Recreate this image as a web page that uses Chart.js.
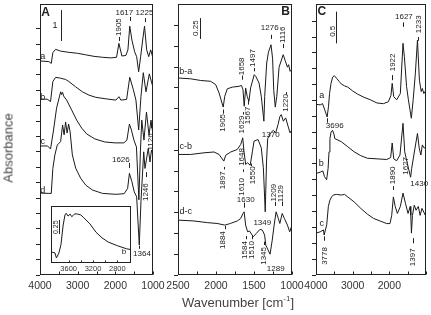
<!DOCTYPE html>
<html>
<head>
<meta charset="utf-8">
<script src="https://cdn.jsdelivr.net/npm/chart.js@4.4.1/dist/chart.umd.min.js"></script>
<style>
  body { margin: 0; background: #fff; }
  #wrap { position: relative; width: 431px; height: 315px; background: #fff; overflow: hidden; }
  #wrap canvas { position: absolute; left: 0; top: 0; }
  .ttl { position: absolute; font-family: "Liberation Sans", Arial, sans-serif; font-size: 13px; color: #444; white-space: nowrap; }
  #ylab { left: 8px; top: 148px; transform: translate(-50%, -50%) rotate(-90deg); }
  #xlab { left: 238px; top: 302px; transform: translate(-50%, -50%); }
  #xlab sup { font-size: 8px; line-height: 0; }
</style>
</head>
<body>
<div id="wrap">
  <canvas id="cA" width="431" height="315"></canvas>
  <canvas id="cB" width="431" height="315"></canvas>
  <canvas id="cC" width="431" height="315"></canvas>
  <canvas id="cIn" width="431" height="315"></canvas>
  <div class="ttl" id="ylab">Absorbance</div>
  <div class="ttl" id="xlab">Wavenumber [cm<sup>-1</sup>]</div>
</div>
<script>
const FONT = '"Liberation Sans", Arial, sans-serif';

// ---------- panel A (spectra a-d, stacked) ----------
const wnA_a = [4000, 3765, 3701, 3659, 3587, 3453, 3232, 3008, 2787, 2565, 2341, 2120, 1968, 1905, 1826, 1720, 1666, 1617, 1560, 1488, 1434, 1381, 1328, 1274, 1225, 1168, 1114, 1061, 1000];
const absA_a = [6.95, 6.93, 6.87, 7.22, 7.33, 7.27, 7.23, 7.20, 7.15, 7.10, 7.07, 7.05, 7.07, 7.52, 7.11, 7.13, 7.31, 8.08, 7.63, 7.25, 7.09, 6.60, 7.09, 7.63, 8.08, 7.31, 7.09, 7.31, 7.04];
const wnA_b = [4000, 3808, 3720, 3659, 3587, 3453, 3320, 3232, 3053, 2875, 2699, 2520, 2253, 1986, 1905, 1853, 1701, 1617, 1525, 1453, 1380, 1320, 1258, 1186, 1098, 1000];
const absA_b = [5.71, 5.71, 5.63, 6.28, 6.42, 6.39, 6.35, 6.28, 6.11, 5.95, 5.84, 5.77, 5.72, 5.68, 5.79, 5.68, 5.70, 6.42, 6.03, 5.68, 4.71, 5.79, 6.57, 5.95, 6.53, 6.09];
const wnA_c = [4000, 3800, 3720, 3640, 3560, 3480, 3450, 3427, 3400, 3373, 3293, 3160, 3027, 2893, 2760, 2547, 2280, 2013, 1773, 1693, 1626, 1573, 1506, 1440, 1375, 1333, 1298, 1240, 1173, 1106, 1053, 1000];
const absA_c = [4.19, 4.19, 4.09, 4.71, 5.42, 5.81, 5.95, 5.86, 5.93, 5.81, 5.68, 5.36, 5.03, 4.77, 4.58, 4.42, 4.32, 4.29, 4.29, 4.38, 4.90, 4.71, 4.38, 4.16, 2.44, 4.06, 5.03, 4.38, 5.29, 4.55, 5.03, 4.55];
const wnA_d = [4000, 3765, 3701, 3659, 3605, 3541, 3453, 3400, 3360, 3320, 3280, 3240, 3200, 3141, 3053, 2920, 2787, 2608, 2341, 1986, 1765, 1674, 1626, 1560, 1498, 1434, 1364, 1320, 1246, 1213, 1126, 1080, 1040, 1000];
const absA_d = [2.66, 2.65, 2.65, 3.46, 3.90, 4.22, 4.33, 4.87, 4.55, 4.97, 4.61, 4.90, 4.64, 3.90, 3.47, 3.14, 2.92, 2.76, 2.65, 2.62, 2.64, 2.81, 3.30, 3.03, 2.70, 2.54, 0.97, 2.38, 4.00, 3.46, 4.11, 3.67, 4.06, 3.90];
// inset of A (spectrum b, OH region)
const wnIn_b = [3890, 3825, 3801, 3760, 3726, 3690, 3660, 3640, 3610, 3576, 3550, 3525, 3501, 3450, 3400, 3351, 3250, 3150, 3051, 2950, 2800, 2650, 2575];
const absIn_b = [0.20, 0.18, 0.09, 0.18, 0.33, 0.68, 0.86, 0.89, 0.84, 0.875, 0.83, 0.85, 0.88, 0.875, 0.86, 0.81, 0.70, 0.55, 0.45, 0.375, 0.31, 0.255, 0.24];

// ---------- panel B (difference spectra) ----------
const wnB_ba = [2500, 2333, 2201, 2070, 2004, 1960, 1905, 1885, 1851, 1785, 1697, 1665, 1645, 1629, 1610, 1590, 1567, 1545, 1497, 1477, 1434, 1404, 1370, 1359, 1333, 1310, 1276, 1255, 1240, 1220, 1200, 1170, 1116, 1090, 1060, 1045, 1025, 1000];
const absB_ba = [2.37, 2.36, 2.34, 2.33, 2.29, 2.19, 2.02, 2.15, 2.24, 2.26, 2.27, 2.28, 2.23, 2.03, 2.25, 2.15, 2.09, 2.25, 2.41, 2.39, 2.31, 2.15, 1.85, 2.15, 2.55, 2.68, 2.77, 2.60, 2.22, 2.02, 2.15, 2.50, 2.65, 2.58, 2.50, 2.53, 2.45, 2.48];
const wnB_cb = [2500, 2333, 2158, 2026, 1960, 1897, 1872, 1806, 1720, 1675, 1648, 1632, 1610, 1585, 1550, 1520, 1500, 1447, 1404, 1377, 1352, 1335, 1320, 1280, 1246, 1214, 1184, 1158, 1141, 1114, 1083, 1052, 1026, 1000];
const absB_cb = [1.45, 1.45, 1.47, 1.48, 1.45, 1.37, 1.44, 1.48, 1.51, 1.57, 1.65, 1.49, 1.33, 1.35, 1.32, 1.49, 1.61, 1.63, 1.53, 1.29, 0.76, 1.37, 1.64, 1.71, 1.74, 1.71, 1.81, 1.91, 1.93, 1.85, 1.89, 1.79, 1.71, 1.75];
const wnB_dc = [2500, 2290, 2115, 1985, 1884, 1810, 1720, 1675, 1645, 1630, 1610, 1584, 1560, 1510, 1470, 1420, 1390, 1360, 1345, 1289, 1260, 1235, 1209, 1180, 1160, 1129, 1100, 1060, 1030, 1000];
const absB_dc = [0.66, 0.65, 0.63, 0.62, 0.60, 0.62, 0.65, 0.68, 0.74, 0.76, 0.60, 0.52, 0.53, 0.46, 0.50, 0.55, 0.54, 0.48, 0.36, 0.25, 0.42, 0.60, 0.76, 0.68, 0.62, 0.74, 0.68, 0.60, 0.52, 0.60];

// ---------- panel C (spectra a-c) ----------
const wnC_a = [4000, 3886, 3822, 3760, 3696, 3660, 3630, 3590, 3545, 3500, 3440, 3370, 3310, 3222, 3132, 2999, 2866, 2691, 2513, 2335, 2160, 2027, 1956, 1922, 1880, 1800, 1700, 1627, 1590, 1530, 1480, 1400, 1350, 1290, 1233, 1180, 1130, 1100, 1060, 1000];
const absC_a = [2.69, 2.68, 2.70, 2.60, 2.49, 2.65, 2.86, 3.02, 3.12, 3.14, 3.10, 3.05, 3.01, 2.98, 2.96, 2.90, 2.85, 2.80, 2.76, 2.71, 2.70, 2.73, 2.83, 3.02, 2.81, 2.76, 2.86, 3.65, 3.44, 2.97, 2.76, 2.47, 2.76, 3.18, 3.70, 3.07, 2.89, 2.94, 2.86, 2.91];
const wnC_b = [4000, 3886, 3814, 3769, 3710, 3670, 3645, 3620, 3590, 3550, 3510, 3488, 3310, 3132, 2957, 2779, 2601, 2335, 2070, 1964, 1922, 1880, 1800, 1710, 1627, 1580, 1510, 1420, 1390, 1300, 1233, 1185, 1140, 1100, 1050, 1000];
const absC_b = [1.60, 1.62, 1.64, 1.55, 1.50, 1.68, 1.94, 2.15, 2.25, 2.28, 2.22, 2.15, 2.10, 2.02, 1.94, 1.88, 1.84, 1.83, 1.82, 1.85, 2.08, 1.83, 1.80, 1.89, 2.39, 1.94, 1.76, 1.54, 1.68, 2.00, 2.23, 2.00, 1.89, 2.05, 2.00, 2.02];
const wnC_c = [4000, 3886, 3796, 3778, 3708, 3663, 3620, 3575, 3530, 3442, 3310, 3222, 3132, 2957, 2779, 2601, 2426, 2248, 2070, 1982, 1935, 1890, 1840, 1780, 1700, 1627, 1560, 1490, 1430, 1415, 1397, 1370, 1320, 1270, 1210, 1160, 1110, 1000];
const absC_c = [0.66, 0.68, 0.71, 0.63, 0.79, 1.08, 1.18, 1.23, 1.26, 1.27, 1.26, 1.27, 1.23, 1.15, 1.05, 0.96, 0.89, 0.85, 0.81, 0.81, 0.94, 1.23, 1.08, 0.97, 1.08, 1.29, 1.13, 0.97, 1.08, 0.94, 0.66, 0.94, 1.10, 1.02, 1.08, 0.94, 1.05, 0.92];

// tick labels
const xLabelsA = [4000, 3000, 2000, 1000];
const xLabelsB = [2500, 2000, 1500, 1000];
const xLabelsC = [4000, 3000, 2000];
const xLabelsIn = [3600, 3200, 2800];

// peak labels: text, wavenumber, absorbance, rotated
const notesA = [
  { t: '1905', x: 1905, y: 8.05, r: 1 }, { t: '1617', x: 1760, y: 8.51 }, { t: '1225', x: 1227, y: 8.51 },
  { t: '1626', x: 1853, y: 3.73 }, { t: '1246', x: 1186, y: 2.69, r: 1 }, { t: '1126', x: 1053, y: 4.32, r: 1 },
  { t: '1364', x: 1293, y: 0.68 },
  { t: 'a', x: 3928, y: 7.09, s: 9 }, { t: 'b', x: 3925, y: 5.77, s: 9 }, { t: 'c', x: 3928, y: 4.35, s: 9 }, { t: 'd', x: 3925, y: 2.73, s: 9 },
  { t: '1', x: 3600, y: 8.1, s: 9 }, { t: 'A', x: 3853, y: 8.51, s: 12, b: 1 }
];
const dashA = [[1905, 7.60, 7.73], [1617, 8.25, 8.38], [1225, 8.21, 8.34], [1626, 3.47, 3.64], [1186, 3.18, 3.34], [1053, 4.77, 4.90], [1364, 0.85, 0.95], [3453, 7.6, 8.6]];
const notesIn = [{ t: '0.25', x: 3813, y: 0.64, r: 1, s: 7 }, { t: 'b', x: 2691, y: 0.2, s: 8 }];
const dashIn = [[3760, 0.52, 0.77]];

const notesB = [
  { t: 'B', x: 1083, y: 3.17, s: 12, b: 1 }, { t: '0.25', x: 2267, y: 2.97, r: 1 },
  { t: 'b-a', x: 2399, y: 2.45, s: 9 }, { t: 'c-b', x: 2399, y: 1.55, s: 9 }, { t: 'd-c', x: 2399, y: 0.76, s: 9 },
  { t: '1905', x: 1917, y: 1.83, r: 1 }, { t: '1658', x: 1654, y: 2.51, r: 1 }, { t: '1497', x: 1513, y: 2.61, r: 1 },
  { t: '1276', x: 1293, y: 2.97 }, { t: '1116', x: 1127, y: 2.89, r: 1 }, { t: '1629', x: 1654, y: 1.81, r: 1 },
  { t: '1567', x: 1579, y: 1.92, r: 1 }, { t: '1370', x: 1280, y: 1.69 }, { t: '1220', x: 1083, y: 2.07, r: 1 },
  { t: '1897', x: 1904, y: 1.14, r: 1 }, { t: '1648', x: 1664, y: 1.42, r: 1 }, { t: '1610', x: 1654, y: 1.06, r: 1 },
  { t: '1550', x: 1513, y: 1.20, r: 1 }, { t: '1349', x: 1391, y: 0.63 }, { t: '1630', x: 1609, y: 0.90 },
  { t: '1884', x: 1904, y: 0.42, r: 1 }, { t: '1584', x: 1618, y: 0.30, r: 1 }, { t: '1510', x: 1530, y: 0.30, r: 1 },
  { t: '1345', x: 1368, y: 0.23, r: 1 }, { t: '1289', x: 1214, y: 0.08 }, { t: '1209', x: 1237, y: 0.99, r: 1 },
  { t: '1129', x: 1141, y: 0.98, r: 1 }
];
const dashB = [[2204, 2.84, 3.09], [1905, 1.94, 1.99], [1658, 2.35, 2.40], [1505, 2.45, 2.49], [1276, 2.84, 2.89], [1120, 2.73, 2.78],
  [1640, 1.93, 1.96], [1575, 2.05, 2.11], [1083, 2.17, 2.20], [1897, 1.27, 1.30], [1650, 1.24, 1.27], [1540, 1.31, 1.34],
  [1630, 0.81, 0.87], [1884, 0.55, 0.59], [1600, 0.43, 0.47], [1520, 0.43, 0.47], [1368, 0.36, 0.40], [1220, 0.83, 0.88], [1135, 0.83, 0.88]];

const notesC = [
  { t: 'C', x: 3841, y: 4.15, s: 12, b: 1 }, { t: '0.5', x: 3530, y: 3.84, r: 1 },
  { t: 'a', x: 3841, y: 2.83, s: 9 }, { t: 'b', x: 3859, y: 1.76, s: 9 }, { t: 'c', x: 3841, y: 0.81, s: 9 },
  { t: '3696', x: 3488, y: 2.35 }, { t: '1922', x: 1900, y: 3.35, r: 1 }, { t: '1627', x: 1603, y: 4.07 },
  { t: '1233', x: 1204, y: 3.95, r: 1 }, { t: '3778', x: 3753, y: 0.30, r: 1 }, { t: '1890', x: 1895, y: 1.57, r: 1 },
  { t: '1627', x: 1540, y: 1.72, r: 1 }, { t: '1430', x: 1186, y: 1.44 }, { t: '1397', x: 1364, y: 0.28, r: 1 }
];
const dashC = [[3442, 3.65, 4.15], [3696, 2.40, 2.47], [1922, 3.07, 3.15], [1627, 3.91, 3.98], [1215, 3.69, 3.75],
  [3778, 0.54, 0.61], [1890, 1.34, 1.40], [1364, 0.50, 0.58]];

function series(wn, ab) {
  return wn.map((w, i) => ({ x: w, y: ab[i] }));
}

function onStep(v, step) {
  return Math.abs(v / step - Math.round(v / step)) < 1e-6;
}

// box round the plot area, inward x ticks
function framePlugin(tickLen, white) {
  return {
    id: 'frame',
    beforeDraw(chart) {
      if (!white) return;
      const a = chart.chartArea;
      chart.ctx.save();
      chart.ctx.fillStyle = '#fff';
      chart.ctx.fillRect(a.left, a.top, a.right - a.left, a.bottom - a.top);
      chart.ctx.restore();
    },
    afterDraw(chart) {
      const a = chart.chartArea, ctx = chart.ctx, xs = chart.scales.x;
      const l = Math.round(a.left) + 0.5, t = Math.round(a.top) + 0.5;
      const r = Math.round(a.right) - 0.5, b = Math.round(a.bottom) - 0.5;
      ctx.save();
      ctx.strokeStyle = '#222';
      ctx.lineWidth = 1;
      ctx.strokeRect(l, t, r - l, b - t);
      ctx.beginPath();
      xs.ticks.forEach(tk => {
        const x = Math.round(xs.getPixelForValue(tk.value)) + 0.5;
        ctx.moveTo(x, b);
        ctx.lineTo(x, b - tickLen);
      });
      ctx.stroke();
      ctx.restore();
    }
  };
}

// peak numbers, curve names, little marker dashes
function notePlugin(notes, dashes) {
  return {
    id: 'notes',
    afterDatasetsDraw(chart) {
      const ctx = chart.ctx, xs = chart.scales.x, ys = chart.scales.y;
      ctx.save();
      ctx.strokeStyle = '#222';
      ctx.fillStyle = '#222';
      ctx.lineWidth = 1;
      ctx.beginPath();
      dashes.forEach(d => {
        const x = Math.round(xs.getPixelForValue(d[0])) + 0.5;
        ctx.moveTo(x, ys.getPixelForValue(d[1]));
        ctx.lineTo(x, ys.getPixelForValue(d[2]));
      });
      ctx.stroke();
      notes.forEach(n => {
        ctx.font = (n.b ? 'bold ' : '') + (n.s || 8) + 'px ' + FONT;
        ctx.textAlign = 'center';
        ctx.textBaseline = 'middle';
        ctx.save();
        ctx.translate(xs.getPixelForValue(n.x), ys.getPixelForValue(n.y));
        if (n.r) ctx.rotate(-Math.PI / 2);
        ctx.fillText(n.t, 0, 0);
        ctx.restore();
      });
      ctx.restore();
    }
  };
}

function panel(id, p) {
  return new Chart(document.getElementById(id), {
    type: 'line',
    data: {
      datasets: p.sets.map(s => ({
        data: s, borderColor: '#1a1a1a', borderWidth: 1, pointRadius: 0, tension: 0, fill: false
      }))
    },
    options: {
      responsive: false,
      animation: false,
      devicePixelRatio: 1,
      events: [],
      layout: { padding: p.pad },
      plugins: { legend: { display: false }, tooltip: { enabled: false } },
      scales: {
        x: {
          type: 'linear', reverse: true, min: p.xmin, max: p.xmax,
          afterFit: s => { s.height = p.xh; },
          afterBuildTicks: s => { s.ticks = s.ticks.filter(t => onStep(t.value, p.xstep)); },
          grid: { display: false, drawTicks: false },
          border: { display: false },
          ticks: {
            stepSize: p.xstep, autoSkip: false, maxRotation: 0, padding: p.xpad,
            color: '#333', font: { family: FONT, size: p.xfont },
            callback: v => p.xlabels.includes(v) ? String(v) : ''
          }
        },
        y: {
          type: 'linear', min: 0, max: p.ymax, display: p.ydisp,
          afterFit: s => { s.width = 8; },
          afterBuildTicks: s => { s.ticks = s.ticks.filter(t => onStep(t.value, p.ystep)); },
          grid: { drawOnChartArea: false, drawTicks: true, tickLength: 4, color: '#222' },
          border: { display: false },
          ticks: { display: false, stepSize: p.ystep }
        }
      }
    },
    plugins: [framePlugin(p.tick, p.white), notePlugin(p.notes, p.dashes)]
  });
}

panel('cA', {
  sets: [series(wnA_a, absA_a), series(wnA_b, absA_b), series(wnA_c, absA_c), series(wnA_d, absA_d)],
  pad: { left: 32, right: 278, top: 4, bottom: 20 },
  xmin: 1000, xmax: 4000, xstep: 500, xlabels: xLabelsA, xh: 20, xpad: 5, xfont: 10.5,
  ymax: 8.8, ystep: 0.5, ydisp: true, tick: 3, white: false,
  notes: notesA, dashes: dashA
});

panel('cB', {
  sets: [series(wnB_ba, absB_ba), series(wnB_cb, absB_cb), series(wnB_dc, absB_dc)],
  pad: { left: 170, right: 139, top: 4, bottom: 20 },
  xmin: 1000, xmax: 2500, xstep: 250, xlabels: xLabelsB, xh: 20, xpad: 5, xfont: 10.5,
  ymax: 3.26, ystep: 0.25, ydisp: true, tick: 3, white: false,
  notes: notesB, dashes: dashB
});

panel('cC', {
  sets: [series(wnC_a, absC_a), series(wnC_b, absC_b), series(wnC_c, absC_c)],
  pad: { left: 308, right: 2, top: 4, bottom: 20 },
  xmin: 1000, xmax: 4000, xstep: 500, xlabels: xLabelsC, xh: 20, xpad: 5, xfont: 10.5,
  ymax: 4.27, ystep: 0.25, ydisp: true, tick: 3, white: false,
  notes: notesC, dashes: dashC
});

panel('cIn', {
  sets: [series(wnIn_b, absIn_b)],
  pad: { left: 43, right: 300, top: 206, bottom: 42 },
  xmin: 2575, xmax: 3890, xstep: 200, xlabels: xLabelsIn, xh: 10, xpad: 1, xfont: 7.5,
  ymax: 1.02, ystep: 0.25, ydisp: false, tick: 2, white: true,
  notes: notesIn, dashes: dashIn
});
</script>
</body>
</html>
